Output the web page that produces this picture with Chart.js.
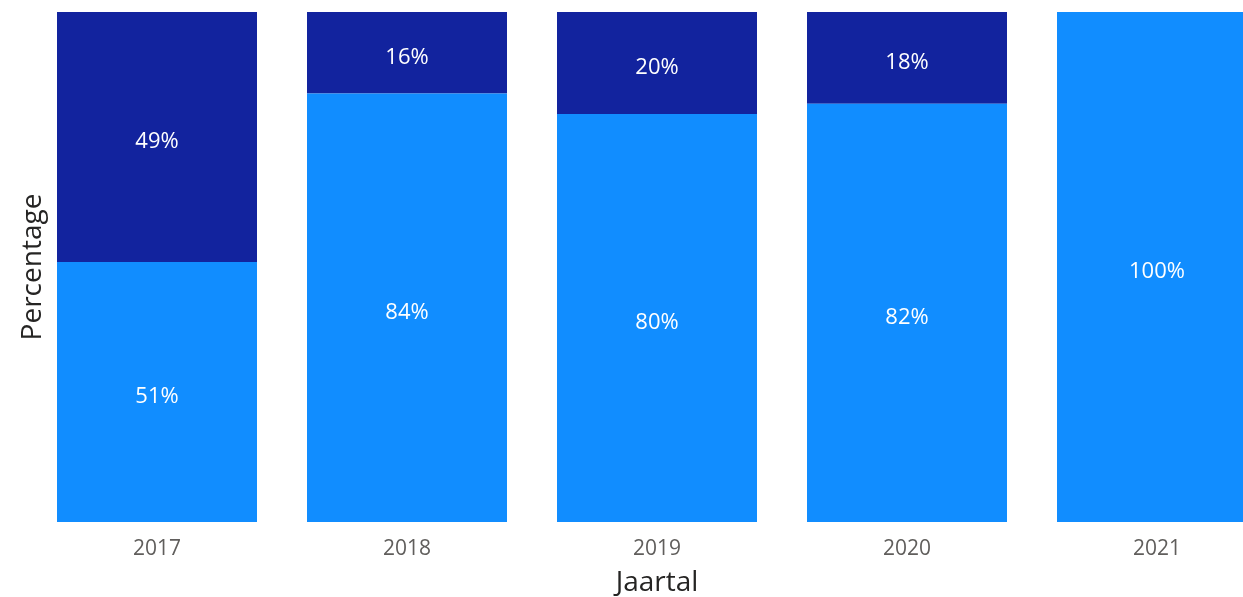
<!DOCTYPE html>
<html>
<head>
<meta charset="utf-8">
<script src="https://cdn.jsdelivr.net/npm/chart.js@4"></script>
<style>
	html, body { margin: 0; padding: 0; background: #fff; overflow: hidden; }
	#wrap { width: 1243px; height: 597px; overflow: hidden; }
</style>
</head>
<body>
<div id="wrap"><canvas id="yearChart" width="1282" height="597"></canvas></div>
<script>
// Percentage per jaartal (100% stacked)
const years = ['2017', '2018', '2019', '2020', '2021'];
const lightValues = [51, 84, 80, 82, 100];
const darkValues = [49, 16, 20, 18, 0];

const fontFamily = "'Segoe UI', 'Open Sans', sans-serif";

// white labels in the middle of every segment
const segmentLabels = {
	id: 'segmentLabels',
	afterDatasetsDraw(chart) {
		const ctx = chart.ctx;
		ctx.save();
		ctx.fillStyle = '#ffffff';
		ctx.font = '22px ' + fontFamily;
		ctx.textAlign = 'center';
		ctx.textBaseline = 'middle';
		chart.data.datasets.forEach(function (ds, i) {
			chart.getDatasetMeta(i).data.forEach(function (bar, j) {
				const v = ds.data[j];
				if (!v) return;
				const mid = (bar.y + bar.base) / 2;
				ctx.fillText(v + '%', bar.x, mid + 5);
			});
		});
		ctx.restore();
	}
};

// y title sits closer to the bars than an axis title can
const yTitle = {
	id: 'yTitle',
	afterDraw(chart) {
		const ctx = chart.ctx;
		const area = chart.chartArea;
		ctx.save();
		ctx.fillStyle = '#252423';
		ctx.font = '28px ' + fontFamily;
		ctx.textAlign = 'center';
		ctx.textBaseline = 'middle';
		ctx.translate(33, (area.top + area.bottom) / 2);
		ctx.rotate(-Math.PI / 2);
		ctx.fillText('Percentage', 0, 0);
		ctx.restore();
	}
};

document.addEventListener('DOMContentLoaded', function () {
	const ctx = document.getElementById('yearChart').getContext('2d');
	const yearChart = new Chart(ctx, {
		type: 'bar',
		data: {
			labels: years,
			datasets: [{
				label: 'Licht',
				data: lightValues,
				backgroundColor: '#118DFF',
				barPercentage: 0.8,
				categoryPercentage: 1.0
			}, {
				label: 'Donker',
				data: darkValues,
				backgroundColor: '#12239E',
				barPercentage: 0.8,
				categoryPercentage: 1.0
			}]
		},
		options: {
			responsive: false,
			animation: false,
			layout: {
				padding: { left: 32, top: 12, right: 0, bottom: 0 }
			},
			plugins: {
				legend: { display: false },
				tooltip: { enabled: false }
			},
			scales: {
				x: {
					stacked: true,
					afterFit: function (scale) {
						scale.height = 75;
					},
					grid: { display: false, drawTicks: false },
					border: { display: false },
					ticks: {
						color: '#605E5C',
						padding: 14,
						font: { family: fontFamily, size: 21 }
					},
					title: {
						display: true,
						text: 'Jaartal',
						color: '#252423',
						padding: { top: 0, bottom: 0 },
						font: { family: fontFamily, size: 28, lineHeight: 1.0 }
					}
				},
				y: {
					stacked: true,
					display: false,
					min: 0,
					max: 100
				}
			}
		},
		plugins: [segmentLabels, yTitle]
	});
});
</script>
</body>
</html>
